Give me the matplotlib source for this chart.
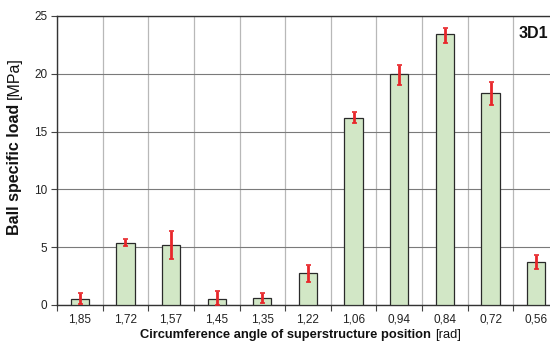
import matplotlib
matplotlib.use("Agg")
import matplotlib.pyplot as plt
import numpy as np

plt.rcParams['font.family'] = ['Liberation Sans', 'DejaVu Sans']

categories = ["1,85", "1,72", "1,57", "1,45", "1,35", "1,22", "1,06", "0,94", "0,84", "0,72", "0,56"]
values = [0.5, 5.4, 5.2, 0.5, 0.6, 2.8, 16.2, 20.0, 23.4, 18.3, 3.7]
err_low = [0.1, 5.1, 4.0, 0.0, 0.2, 2.0, 15.7, 19.0, 22.7, 17.3, 3.1]
err_high = [1.0, 5.7, 6.4, 1.2, 1.0, 3.5, 16.7, 20.8, 24.0, 19.3, 4.3]

fig = plt.figure(figsize=(5.5, 3.43), dpi=100)
ax = fig.add_axes([0.1036, 0.1108, 0.9127, 0.8426])

x = np.arange(len(categories))
ax.bar(x, values, width=0.4, color='#d2e7c6', edgecolor='#2a2a2a', linewidth=0.9, zorder=3)
mid = [(l + h) / 2 for l, h in zip(err_low, err_high)]
half = [(h - l) / 2 for l, h in zip(err_low, err_high)]
ax.errorbar(x, mid, yerr=half, fmt='none', ecolor='#e8262a', elinewidth=2.0,
            capsize=1.8, capthick=1.2, zorder=4)

ax.set_xlim(-0.5, len(categories) - 0.5)
ax.set_ylim(0, 25)
ax.set_yticks([0, 5, 10, 15, 20, 25])

# vertical grid at category boundaries
ax.set_xticks(np.arange(-0.5, len(categories), 1.0))
ax.set_xticklabels([])
ax.set_xticks(x, minor=True)
ax.set_xticklabels(categories, minor=True)
ax.tick_params(axis='x', which='minor', length=0, pad=6, labelsize=8.5, labelcolor='#222')
ax.tick_params(axis='x', which='major', length=4, color='#444', direction='out')
ax.tick_params(axis='y', length=4, color='#444', labelsize=8.5, labelcolor='#222', pad=3)
ax.grid(axis='x', which='major', color='#b8b8b8', linewidth=0.9, zorder=0)
ax.grid(axis='y', color='#7a7a7a', linewidth=0.8, zorder=0)
ax.set_axisbelow(True)

for s in ['left', 'bottom', 'top']:
    ax.spines[s].set_color('#333')
    ax.spines[s].set_linewidth(1.0)
ax.spines['right'].set_visible(False)

# x label: bold + normal part
t1 = fig.text(0.255, 0.005, "Circumference angle of superstructure position ",
              fontsize=9.3, fontweight='bold', color='#111', ha='left', va='bottom')
fig.canvas.draw()
ax.annotate("[rad]", xy=(1, 0), xycoords=t1, fontsize=9.3, color='#111',
            ha='left', va='bottom')

# y label: bold + normal part (rotated)
t2 = fig.text(0.012, 0.315, "Ball specific load ", rotation=90,
              fontsize=11.5, fontweight='bold', color='#111', ha='left', va='bottom')
ax.annotate("[MPa]", xy=(0, 1), xycoords=t2, fontsize=11.5, color='#111',
            rotation=90, ha='left', va='bottom')

fig.text(548 / 550, 1 - 26 / 343, "3D1", fontsize=11.5, fontweight='bold',
         ha='right', va='top', color='#111')

fig.savefig("out.png", dpi=100)
